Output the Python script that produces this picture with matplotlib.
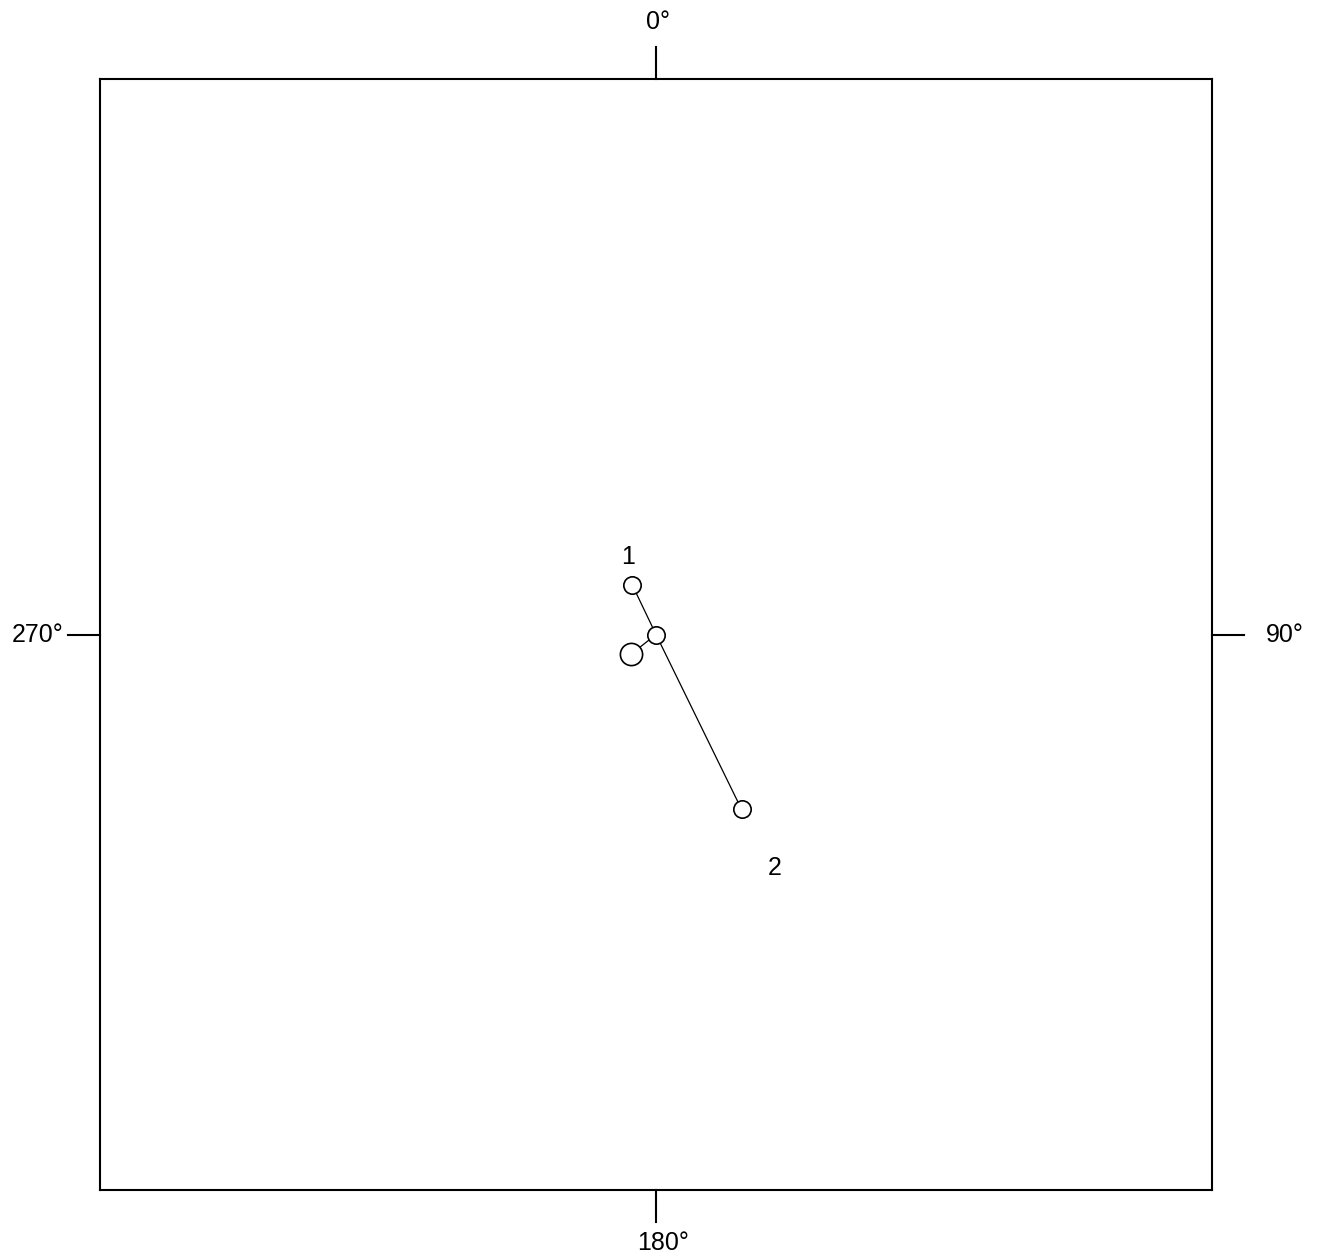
import matplotlib
matplotlib.use("Agg")
import matplotlib.pyplot as plt

# positions (east, north), box spans -1..1
pt_labels = ["1", "", "2"]
path_east = [-0.043, 0.0, 0.154]
path_north = [0.090, 0.0, -0.315]
mean_east = -0.0455
mean_north = -0.036
dir_labels = ["0°", "90°", "180°", "270°"]

plt.rcParams['font.family'] = ['Liberation Sans', 'DejaVu Sans']

W, H = 1321, 1257
fig = plt.figure(figsize=(W / 100, H / 100), dpi=100)
ax = fig.add_axes([100 / W, (H - 1190) / H, 1112 / W, 1111 / H])
ax.set_xlim(-1, 1)
ax.set_ylim(-1, 1)
ax.set_xticks([])
ax.set_yticks([])
for s in ax.spines.values():
    s.set_linewidth(1.5)

# outward ticks at the four directions
tl = 32 / 556
kw = dict(color='black', lw=1.5, clip_on=False)
ax.plot([0, 0], [1, 1 + tl], **kw)
ax.plot([0, 0], [-1, -1 - tl], **kw)
ax.plot([1, 1 + tl], [0, 0], **kw)
ax.plot([-1, -1 - tl], [0, 0], **kw)

fs = 18
ax.text(0.004, 1 + 57 / 556, dir_labels[0], ha='center', va='center', fontsize=fs)
ax.text(1.096, 0, dir_labels[1], ha='left', va='center', fontsize=fs)
ax.text(0.012, -1 - 53 / 556, dir_labels[2], ha='center', va='center', fontsize=fs)
ax.text(-1.065, 0, dir_labels[3], ha='right', va='center', fontsize=fs)

# segment to the mean point
ax.plot([path_east[1], mean_east], [path_north[1], mean_north], color='black', lw=0.9, zorder=1)
ax.plot(path_east, path_north, color='black', lw=0.9, zorder=1)
ax.plot(path_east, path_north, 'o', ms=12.5, mfc='white', mec='black', mew=1.2, zorder=2)
ax.plot([mean_east], [mean_north], 'o', ms=16, mfc='white', mec='black', mew=1.2, zorder=2)

ax.text(path_east[0] - 0.007, path_north[0] + 0.05, pt_labels[0], ha='center', va='center', fontsize=fs)
ax.text(path_east[2] + 0.06, path_north[2] - 0.105, pt_labels[2], ha='center', va='center', fontsize=fs)

fig.savefig("out.png", dpi=100)
